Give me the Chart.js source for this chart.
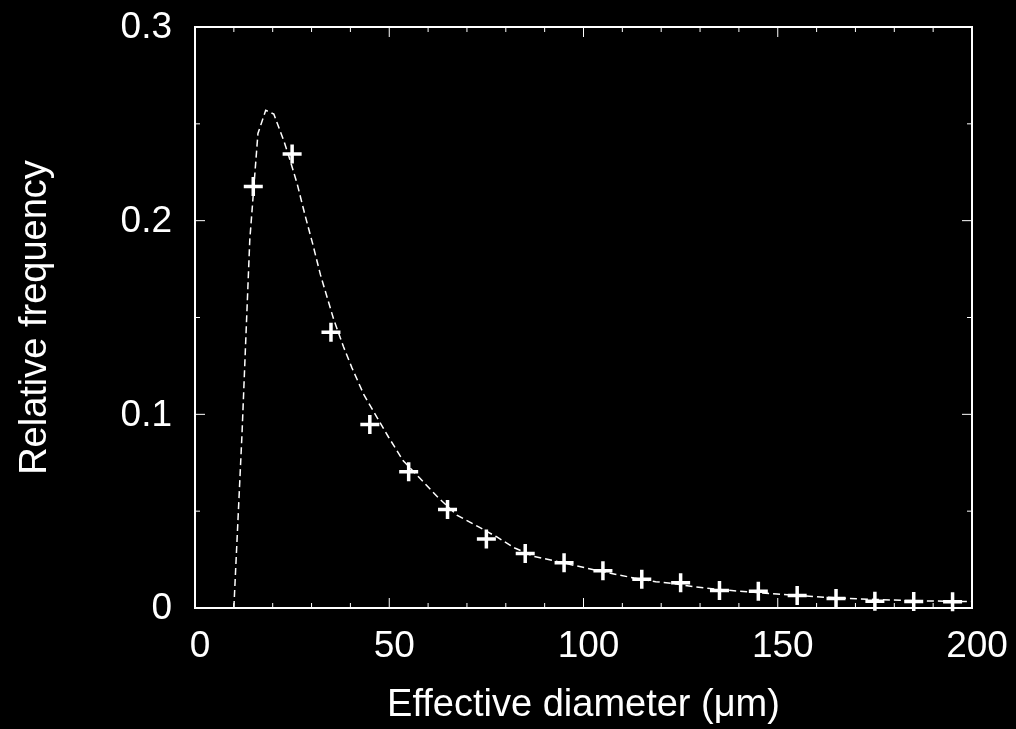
<!DOCTYPE html>
<html>
<head>
<meta charset="utf-8">
<script src="https://cdn.jsdelivr.net/npm/chart.js@4.4.1/dist/chart.umd.min.js"></script>
<style>
  html, body { margin: 0; padding: 0; background: #000; }
  canvas { display: block; }
</style>
</head>
<body>
<canvas id="chart" width="1016" height="729"></canvas>
<script>
// Measured size distribution: bin centres (µm) and relative frequency per bin
const binCenters = [15, 25, 35, 45, 55, 65, 75, 85, 95, 105, 115, 125, 135, 145, 155, 165, 175, 185, 195];
const frequencies = [0.2177, 0.2344, 0.1424, 0.0948, 0.0703, 0.0509, 0.0356, 0.0281, 0.0234, 0.0192,
                     0.0148, 0.0130, 0.0090, 0.0086, 0.0064, 0.0049, 0.0035, 0.0033, 0.0032];

// Fitted distribution curve (sampled diameters and densities)
const fitDiameters = [10, 12.1, 14.1, 16.2, 18.2, 20.3, 22.9, 24.2, 26.3, 28.3, 30.3, 32.3, 35.7, 38.2,
                      40.4, 43.5, 46.8, 49.8, 53.6, 57.9, 62.6, 67.4, 72.9, 77.6, 82.3, 87, 92.6, 98.1,
                      103, 107.5, 113, 118.6, 122.9, 128.4, 134, 139.5, 144.6, 149.8, 155, 160, 165,
                      170.3, 175, 179.8, 185, 190, 195, 200];
const fitValues = [0, 0.090, 0.190, 0.245, 0.257, 0.255, 0.241, 0.233, 0.219, 0.203, 0.188, 0.172, 0.149,
                   0.135, 0.124, 0.110, 0.0986, 0.0883, 0.076, 0.067, 0.057, 0.048, 0.042, 0.0368, 0.031,
                   0.0268, 0.0243, 0.0218, 0.0196, 0.0177, 0.0155, 0.0136, 0.0127, 0.011, 0.0098, 0.0088,
                   0.008, 0.0072, 0.0065, 0.0058, 0.0053, 0.0048, 0.0044, 0.0041, 0.0038, 0.0036, 0.0034,
                   0.0033];

// Axis ticks
const xTickValues = [0, 50, 100, 150, 200];
const xTickLabels = ['0', '50', '100', '150', '200'];
const xMinorTicks = [10, 20, 30, 40, 60, 70, 80, 90, 110, 120, 130, 140, 160, 170, 180, 190];
const yTickValues = [0, 0.1, 0.2, 0.3];
const yTickLabels = ['0', '0.1', '0.2', '0.3'];
const yMinorTicks = [0.05, 0.15, 0.25];

const FONT = '"Liberation Sans", Arial, Helvetica, sans-serif';

// Frame around the plot with inward major/minor ticks on all four sides
const frameTicks = {
  id: 'frameTicks',
  afterDatasetsDraw(chart) {
    const { ctx, chartArea: a, scales: { x, y } } = chart;
    ctx.save();
    ctx.strokeStyle = '#ffffff';
    ctx.lineWidth = 1;
    const tick = (px, len, vertical) => {
      ctx.beginPath();
      if (vertical) {
        ctx.moveTo(px, a.bottom); ctx.lineTo(px, a.bottom - len);
        ctx.moveTo(px, a.top); ctx.lineTo(px, a.top + len);
      } else {
        ctx.moveTo(a.left, px); ctx.lineTo(a.left + len, px);
        ctx.moveTo(a.right, px); ctx.lineTo(a.right - len, px);
      }
      ctx.stroke();
    };
    xTickValues.forEach(v => tick(x.getPixelForValue(v), 10, true));
    xMinorTicks.forEach(v => tick(x.getPixelForValue(v), 5, true));
    yTickValues.forEach(v => tick(y.getPixelForValue(v), 10, false));
    yMinorTicks.forEach(v => tick(y.getPixelForValue(v), 5, false));
    ctx.lineWidth = 2;
    ctx.strokeRect(a.left, a.top, a.right - a.left, a.bottom - a.top);
    ctx.restore();
  }
};

new Chart(document.getElementById('chart'), {
  type: 'scatter',
  data: {
    datasets: [
      {
        data: fitDiameters.map((d, i) => ({ x: d, y: fitValues[i] })),
        showLine: true,
        borderColor: '#ffffff',
        borderWidth: 1.5,
        borderDash: [7, 4],
        pointRadius: 0,
        tension: 0,
        fill: false
      },
      {
        data: binCenters.map((d, i) => ({ x: d, y: frequencies[i] })),
        showLine: false,
        pointStyle: 'cross',
        pointRadius: 9.5,
        borderWidth: 3.5,
        borderColor: '#ffffff',
        backgroundColor: '#ffffff',
        clip: false
      }
    ]
  },
  options: {
    responsive: false,
    animation: false,
    devicePixelRatio: 1,
    layout: { padding: { top: 27, right: 44, left: 0, bottom: 0 } },
    plugins: { legend: { display: false }, tooltip: { enabled: false } },
    scales: {
      x: {
        type: 'linear',
        min: 0,
        max: 200,
        afterBuildTicks: s => { s.ticks = xTickValues.map(v => ({ value: v })); },
        afterFit: s => { s.height = 121; s.paddingLeft = 0; s.paddingRight = 0; },
        grid: { display: false, drawTicks: false },
        border: { display: false },
        ticks: {
          color: '#ffffff',
          font: { family: FONT, size: 37 },
          padding: 17,
          labelOffset: 5,
          maxRotation: 0,
          autoSkip: false,
          callback: (v, i) => xTickLabels[i]
        },
        title: {
          display: true,
          text: 'Effective diameter (μm)',
          color: '#ffffff',
          font: { family: FONT, size: 38 },
          padding: { top: 0, bottom: 1 }
        }
      },
      y: {
        type: 'linear',
        min: 0,
        max: 0.3,
        afterBuildTicks: s => { s.ticks = yTickValues.map(v => ({ value: v })); },
        afterFit: s => { s.width = 195; s.paddingTop = 0; s.paddingBottom = 0; },
        grid: { display: false, drawTicks: false },
        border: { display: false },
        ticks: {
          color: '#ffffff',
          font: { family: FONT, size: 37 },
          padding: 23,
          labelOffset: 1,
          autoSkip: false,
          callback: (v, i) => yTickLabels[i]
        },
        title: {
          display: true,
          text: 'Relative frequency',
          color: '#ffffff',
          font: { family: FONT, size: 38 },
          padding: { top: 13, bottom: 0 }
        }
      }
    }
  },
  plugins: [frameTicks]
});
</script>
</body>
</html>
